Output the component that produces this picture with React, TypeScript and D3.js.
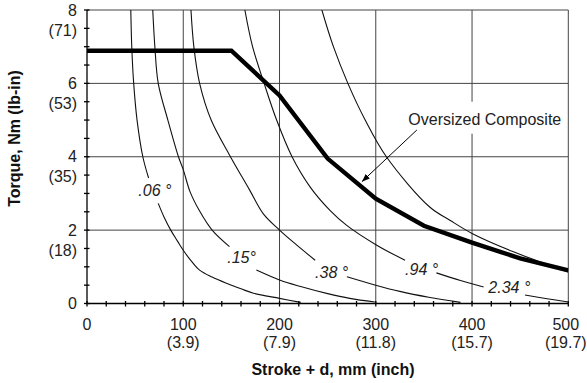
import React from "react";
import * as d3 from "d3";

const W = 587;
const H = 383;

// Axis ticks and labels
const xTickValues = [0, 100, 200, 300, 400, 500];
const xInchLabels = ["", "(3.9)", "(7.9)", "(11.8)", "(15.7)", "(19.7)"];
const yTickValues = [0, 2, 4, 6, 8];
const yLbInLabels = ["", "(18)", "(35)", "(53)", "(71)"];

// Oversized Composite (thick line): [stroke+d mm, torque Nm]
const oversizedComposite = [
  [0, 6.89], [150, 6.89], [200, 5.67], [250, 3.95], [300, 2.86],
  [350, 2.12], [400, 1.66], [450, 1.23], [500, 0.9],
];

// Angle curves (thin lines), split where the labels sit
const angle006Upper = [[45.5, 8], [46.5, 7], [48.5, 6], [52, 5], [58, 4], [64, 3.42]];
const angle006Lower = [
  [74, 2.73], [80, 2.36], [87, 2.0], [94, 1.7], [100, 1.45], [108, 1.17],
  [117, 0.91], [130, 0.72], [145, 0.55], [160, 0.4], [173, 0.28], [200, 0.14], [222, 0.03],
];
const angle015Upper = [
  [68.3, 8], [70.5, 7], [74, 6], [84, 5], [95, 4], [100, 3.65], [107, 3.05],
  [117, 2.52], [130, 2.0], [148, 1.55],
];
const angle015Lower = [[176, 0.91], [200, 0.64], [221, 0.47], [250, 0.27], [273, 0.14], [299, 0.04]];
const angle038Upper = [
  [108, 8], [111, 7], [117, 6], [129, 5], [148, 4.05], [169, 3.09], [183, 2.45],
  [200, 2.0], [218, 1.59], [237, 1.18],
];
const angle038Lower = [[270, 0.73], [300, 0.5], [325, 0.33], [355, 0.17], [388, 0.03]];
const angle094Upper = [
  [164, 8], [172, 7], [184, 6], [197, 5], [213, 4], [231.7, 3.18], [252.4, 2.54],
  [269.8, 2.13], [301, 1.59], [330.4, 1.18],
];
const angle094LowerA = [[363, 0.835], [388, 0.625], [412, 0.45]];
const angle094LowerB = [[455, 0.23], [478, 0.13], [500, 0.04]];
const angle234 = [
  [244, 8], [256, 7], [271, 6], [289, 5], [311, 4], [356, 2.63], [377, 2.27],
  [400, 1.91], [443, 1.41], [500, 0.86],
];

const thinSegments = [
  angle006Upper, angle006Lower, angle015Upper, angle015Lower, angle038Upper,
  angle038Lower, angle094Upper, angle094LowerA, angle094LowerB, angle234,
];

// Angle labels: text, x (mm), y (Nm) of the text start / baseline
const angleLabels = [".06 °", ".15°", ".38 °", ".94 °", "2.34 °"];
const angleLabelX = [53.3, 145.7, 236.9, 330.4, 416.9];
const angleLabelY = [2.92, 1.11, 0.69, 0.78, 0.28];

// Callout
const calloutText = "Oversized Composite";
const calloutPos = [333.8, 4.86];
const arrowTail = [342.7, 4.73];
const arrowHead = [285.6, 3.32];

const FONT = "'Liberation Sans', Arial, Helvetica, sans-serif";

export default function App() {
  const x = d3.scaleLinear().domain([0, 500]).range([87, 568.3]);
  const y = d3.scaleLinear().domain([0, 8]).range([303.5, 10]);

  const thinLine = d3
    .line<number[]>()
    .x((d) => x(d[0]))
    .y((d) => y(d[1]))
    .curve(d3.curveCatmullRom.alpha(0.5));
  const thickLine = d3
    .line<number[]>()
    .x((d) => x(d[0]))
    .y((d) => y(d[1]))
    .curve(d3.curveLinear);

  const xMinor = d3.range(0, 501, 20);
  const yMinor = d3.range(0, 8.001, 0.5);
  const [x0, x1] = x.range();
  const [y0, y1] = y.range();

  const cx = x(calloutPos[0]);
  const cy = y(calloutPos[1]);

  return (
    <svg
      width={W}
      height={H}
      style={{ position: "absolute", left: 0, top: 0, background: "#fff" }}
      fontFamily={FONT}
    >
      <defs>
        <clipPath id="plot">
          <rect x={x0} y={y1} width={x1 - x0} height={y0 - y1} />
        </clipPath>
        <marker
          id="arrow"
          markerUnits="userSpaceOnUse"
          markerWidth={10}
          markerHeight={8}
          refX={8}
          refY={3}
          orient="auto"
        >
          <path d="M0,0 L8,3 L0,6 Z" fill="#000" />
        </marker>
      </defs>

      {/* grid */}
      <g stroke="#444" strokeWidth={1}>
        {[100, 200, 300, 400].map((v) => (
          <line key={"gx" + v} x1={x(v)} x2={x(v)} y1={y0} y2={y1} />
        ))}
        {[2, 4, 6].map((v) => (
          <line key={"gy" + v} x1={x0} x2={x1} y1={y(v)} y2={y(v)} />
        ))}
        <line x1={x0} x2={x1} y1={y1} y2={y1} />
        <line x1={x1} x2={x1} y1={y0} y2={y1} />
      </g>

      {/* curves */}
      <g clipPath="url(#plot)" fill="none">
        {thinSegments.map((seg, i) => (
          <path key={"t" + i} d={thinLine(seg) || ""} stroke="#111" strokeWidth={1.1} />
        ))}
        <path
          d={thickLine(oversizedComposite) || ""}
          stroke="#000"
          strokeWidth={4.4}
          strokeLinejoin="miter"
        />
      </g>

      {/* angle labels */}
      {angleLabels.map((t, i) => (
        <text
          key={"al" + i}
          x={x(angleLabelX[i])}
          y={y(angleLabelY[i])}
          fontSize={16}
          fontStyle="italic"
          fill="#222"
        >
          {t}
        </text>
      ))}

      {/* callout */}
      <rect x={cx - 5} y={cy - 23.5} width={158} height={32} fill="#fff" />
      <text x={cx} y={cy} fontSize={16} fill="#222">
        {calloutText}
      </text>
      <line
        x1={x(arrowTail[0])}
        y1={y(arrowTail[1])}
        x2={x(arrowHead[0])}
        y2={y(arrowHead[1])}
        stroke="#000"
        strokeWidth={1}
        markerEnd="url(#arrow)"
      />

      {/* axes */}
      <g stroke="#000" strokeWidth={1.3}>
        <line x1={x0} x2={x0} y1={y0} y2={y1} />
        <line x1={x0} x2={x1} y1={y0} y2={y0} />
        {xMinor.map((v) => (
          <line key={"xt" + v} x1={x(v)} x2={x(v)} y1={y0 - 2.5} y2={y0 + 3} />
        ))}
        {yMinor.map((v) => (
          <line key={"yt" + v} x1={x0 - 3} x2={x0 + 2.5} y1={y(v)} y2={y(v)} />
        ))}
      </g>

      {/* x tick labels */}
      {xTickValues.map((v, i) => (
        <g key={"xl" + v} fontSize={16} fill="#222" textAnchor="middle">
          <text x={x(v) - (v === 500 ? 2.5 : 0)} y={330}>
            {v}
          </text>
          {xInchLabels[i] && (
            <text x={x(v) - (v === 500 ? 2.5 : 0)} y={347.5}>
              {xInchLabels[i]}
            </text>
          )}
        </g>
      ))}

      {/* y tick labels */}
      {yTickValues.map((v, i) => (
        <g key={"yl" + v} fontSize={16} fill="#222" textAnchor="end">
          <text x={77} y={y(v)} dominantBaseline="central">
            {v}
          </text>
          {yLbInLabels[i] && (
            <text x={77} y={y(v) + 20} dominantBaseline="central">
              {yLbInLabels[i]}
            </text>
          )}
        </g>
      ))}

      {/* axis titles */}
      <text
        x={333}
        y={375}
        fontSize={16}
        fontWeight="bold"
        textAnchor="middle"
        fill="#111"
      >
        Stroke + d, mm (inch)
      </text>
      <text
        transform="translate(19.5,138.5) rotate(-90)"
        fontSize={16}
        fontWeight="bold"
        textAnchor="middle"
        fill="#111"
      >
        Torque, Nm (lb-in)
      </text>
    </svg>
  );
}
